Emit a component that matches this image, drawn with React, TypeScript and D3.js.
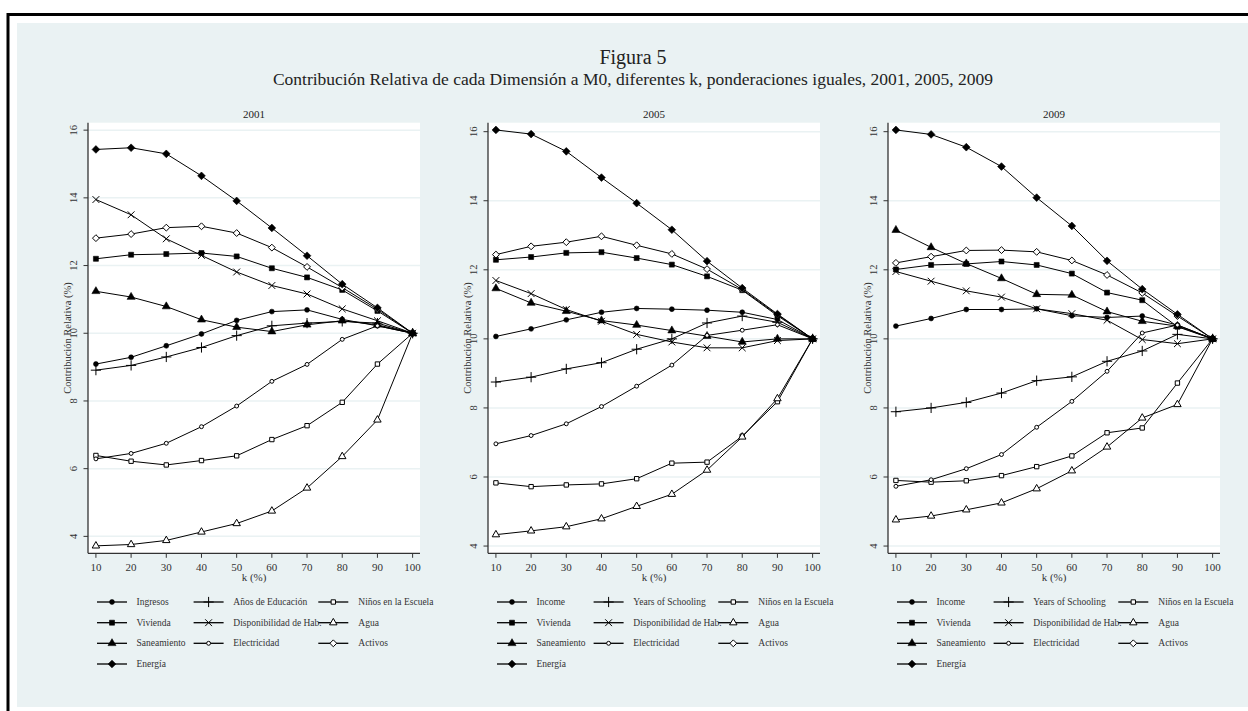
import React from 'react';
import * as d3 from 'd3';

const kValues = [10, 20, 30, 40, 50, 60, 70, 80, 90, 100];
const yTicks = [4, 6, 8, 10, 12, 14, 16];
const xTicks = [10, 20, 30, 40, 50, 60, 70, 80, 90, 100];

const panelTitles = ['2001', '2005', '2009'];
const legendEs = ['Ingresos', 'Años de Educación', 'Niños en la Escuela', 'Vivienda', 'Disponibilidad de Hab.', 'Agua', 'Saneamiento', 'Electricidad', 'Activos', 'Energía'];
const legendEn = ['Income', 'Years of Schooling', 'Niños en la Escuela', 'Vivienda', 'Disponibilidad de Hab.', 'Agua', 'Saneamiento', 'Electricidad', 'Activos', 'Energía'];

// 2001
const ingresos2001 = [9.09, 9.29, 9.63, 9.98, 10.38, 10.64, 10.69, 10.41, 10.22, 10];
const anos2001 = [8.91, 9.05, 9.3, 9.58, 9.93, 10.22, 10.3, 10.35, 10.3, 10];
const ninos2001 = [6.39, 6.22, 6.11, 6.24, 6.38, 6.86, 7.27, 7.96, 9.09, 10];
const vivienda2001 = [12.2, 12.32, 12.34, 12.37, 12.27, 11.92, 11.65, 11.28, 10.66, 10];
const disponibilidad2001 = [13.95, 13.5, 12.79, 12.3, 11.81, 11.41, 11.16, 10.72, 10.37, 10];
const agua2001 = [3.72, 3.76, 3.88, 4.13, 4.38, 4.75, 5.43, 6.36, 7.44, 10];
const saneamiento2001 = [11.24, 11.07, 10.79, 10.4, 10.18, 10.05, 10.25, 10.37, 10.25, 10];
const electricidad2001 = [6.29, 6.45, 6.75, 7.24, 7.85, 8.58, 9.08, 9.82, 10.22, 10];
const activos2001 = [12.81, 12.93, 13.12, 13.16, 12.96, 12.53, 11.96, 11.35, 10.71, 10];
const energia2001 = [15.43, 15.48, 15.3, 14.65, 13.91, 13.11, 12.29, 11.45, 10.75, 10];

// 2005
const ingresos2005 = [10.07, 10.29, 10.55, 10.77, 10.88, 10.86, 10.83, 10.77, 10.56, 10];
const anos2005 = [8.75, 8.89, 9.13, 9.31, 9.7, 10.0, 10.46, 10.66, 10.48, 10];
const ninos2005 = [5.83, 5.72, 5.77, 5.8, 5.95, 6.4, 6.43, 7.18, 8.18, 10];
const vivienda2005 = [12.29, 12.37, 12.49, 12.51, 12.34, 12.15, 11.81, 11.41, 10.67, 10];
const disponibilidad2005 = [11.69, 11.31, 10.85, 10.51, 10.13, 9.91, 9.74, 9.74, 9.95, 10];
const agua2005 = [4.33, 4.44, 4.56, 4.79, 5.15, 5.5, 6.2, 7.16, 8.27, 10];
const saneamiento2005 = [11.46, 11.04, 10.8, 10.53, 10.4, 10.24, 10.08, 9.91, 10.0, 10];
const electricidad2005 = [6.96, 7.2, 7.54, 8.04, 8.63, 9.24, 10.1, 10.25, 10.41, 10];
const activos2005 = [12.44, 12.68, 12.8, 12.97, 12.71, 12.46, 12.02, 11.43, 10.7, 10];
const energia2005 = [16.05, 15.93, 15.43, 14.67, 13.93, 13.16, 12.25, 11.47, 10.72, 10];

// 2009
const ingresos2009 = [10.37, 10.59, 10.85, 10.85, 10.87, 10.67, 10.62, 10.66, 10.4, 10];
const anos2009 = [7.89, 8.0, 8.16, 8.43, 8.79, 8.9, 9.35, 9.65, 10.13, 10];
const ninos2009 = [5.9, 5.85, 5.89, 6.04, 6.3, 6.61, 7.28, 7.42, 8.72, 10];
const vivienda2009 = [12.01, 12.14, 12.17, 12.24, 12.14, 11.89, 11.34, 11.12, 10.35, 10];
const disponibilidad2009 = [11.95, 11.67, 11.39, 11.21, 10.87, 10.73, 10.54, 9.98, 9.86, 10];
const agua2009 = [4.76, 4.87, 5.05, 5.25, 5.66, 6.18, 6.87, 7.71, 8.1, 10];
const saneamiento2009 = [13.15, 12.65, 12.18, 11.75, 11.29, 11.27, 10.79, 10.51, 10.37, 10];
const electricidad2009 = [5.73, 5.92, 6.24, 6.65, 7.44, 8.19, 9.06, 10.17, 10.4, 10];
const activos2009 = [12.2, 12.38, 12.56, 12.57, 12.52, 12.27, 11.85, 11.33, 10.66, 10];
const energia2009 = [16.05, 15.92, 15.55, 14.99, 14.09, 13.27, 12.26, 11.44, 10.71, 10];

const series2001 = [ingresos2001, anos2001, ninos2001, vivienda2001, disponibilidad2001, agua2001, saneamiento2001, electricidad2001, activos2001, energia2001];
const series2005 = [ingresos2005, anos2005, ninos2005, vivienda2005, disponibilidad2005, agua2005, saneamiento2005, electricidad2005, activos2005, energia2005];
const series2009 = [ingresos2009, anos2009, ninos2009, vivienda2009, disponibilidad2009, agua2009, saneamiento2009, electricidad2009, activos2009, energia2009];

// marker style per series (same order as legends)
const markers = [
  { type: d3.symbolCircle, size: 19, mode: 'fill' },
  { type: d3.symbolPlus, size: 36, mode: 'line' },
  { type: d3.symbolSquare, size: 19, mode: 'open' },
  { type: d3.symbolSquare, size: 25, mode: 'fill' },
  { type: d3.symbolTimes, size: 32, mode: 'line' },
  { type: d3.symbolTriangle, size: 24, mode: 'open' },
  { type: d3.symbolTriangle, size: 28, mode: 'fill' },
  { type: d3.symbolCircle, size: 12, mode: 'open' },
  { type: d3.symbolDiamond2, size: 30, mode: 'open' },
  { type: d3.symbolDiamond2, size: 38, mode: 'fill' },
];

const FONT = '"Liberation Serif", "DejaVu Serif", serif';
const BG = '#eaf2f3';

const Marker = ({ i, x, y }: { i: number; x: number; y: number }) => {
  const m = markers[i];
  const d = d3.symbol().type(m.type as any).size(m.size)() as string;
  const fill = m.mode === 'fill' ? '#000' : m.mode === 'open' ? '#fff' : 'none';
  return (
    <path
      d={d}
      transform={`translate(${x},${y})`}
      fill={fill}
      stroke="#000"
      strokeWidth={m.mode === 'fill' ? 0.6 : 1}
    />
  );
};

const Panel = ({ idx, series, labels }: { idx: number; series: number[][]; labels: string[] }) => {
  const left = 88 + idx * 400;
  const width = 332;
  const top = 122.7;
  const bottom = 553.3;
  const yDom = idx === 0 ? [3.5, 16.22] : [3.79, 16.26];
  const x = d3.scaleLinear().domain([7.75, 102.1]).range([left, left + width]);
  const y = d3.scaleLinear().domain(yDom).range([bottom, top]);
  const line = d3
    .line<number>()
    .x((_, j) => x(kValues[j]))
    .y((v) => y(v));

  const legendRows = [602, 622.7, 643.3, 664];
  const colLine = [9, 105.6, 230.3];
  const colText = [48.5, 145.3, 270.3];

  return (
    <g>
      <text x={left + width / 2} y={118} textAnchor="middle" fontSize={11} fontFamily={FONT} fill="#222">
        {panelTitles[idx]}
      </text>
      <rect x={left} y={top} width={width} height={bottom - top} fill="#fff" />
      {yTicks.map((t) => (
        <g key={t}>
          <line x1={left} x2={left + width} y1={y(t)} y2={y(t)} stroke={BG} strokeWidth={1.5} />
          <line x1={left - 4.5} x2={left} y1={y(t)} y2={y(t)} stroke="#333" strokeWidth={1} />
          <text
            transform={`translate(${left - 11},${y(t)}) rotate(-90)`}
            textAnchor="middle"
            fontSize={10.5}
            fontFamily={FONT}
            fill="#333"
          >
            {t}
          </text>
        </g>
      ))}
      <text
        transform={`translate(${left - 17},${(top + bottom) / 2}) rotate(-90)`}
        textAnchor="middle"
        fontSize={10.5}
        fontFamily={FONT}
        fill="#333"
      >
        Contribución Relativa (%)
      </text>
      <line x1={left} x2={left} y1={top} y2={bottom} stroke="#333" strokeWidth={1.3} />
      <line x1={left} x2={left + width} y1={bottom} y2={bottom} stroke="#333" strokeWidth={1.3} />
      {xTicks.map((t) => (
        <g key={t}>
          <line x1={x(t)} x2={x(t)} y1={bottom} y2={bottom + 4.5} stroke="#333" strokeWidth={1} />
          <text x={x(t)} y={570.7} textAnchor="middle" fontSize={11} fontFamily={FONT} fill="#333">
            {t}
          </text>
        </g>
      ))}
      <text x={left + width / 2} y={580.5} textAnchor="middle" fontSize={11} fontFamily={FONT} fill="#333">
        k (%)
      </text>
      {series.map((s, i) => (
        <path key={`l${i}`} d={line(s) as string} fill="none" stroke="#000" strokeWidth={1} />
      ))}
      {series.map((s, i) => (
        <g key={`m${i}`}>
          {s.map((v, j) => (
            <Marker key={j} i={i} x={x(kValues[j])} y={y(v)} />
          ))}
        </g>
      ))}
      {labels.map((lab, i) => {
        const r = Math.floor(i / 3);
        const c = i % 3;
        const ly = legendRows[r];
        const lx = left + colLine[c];
        return (
          <g key={lab + i}>
            <line x1={lx} x2={lx + 30} y1={ly} y2={ly} stroke="#000" strokeWidth={1.3} />
            <Marker i={i} x={lx + 15} y={ly} />
            <text x={left + colText[c]} y={ly} dy="0.33em" fontSize={9.5} fontFamily={FONT} fill="#333">
              {lab}
            </text>
          </g>
        );
      })}
    </g>
  );
};

export default function App() {
  return (
    <svg width={1248} height={711} style={{ position: 'absolute', left: 0, top: 0, background: '#fff' }}>
      <rect x={0} y={0} width={1248} height={711} fill="#fff" />
      <rect x={8} y={14.5} width={1300} height={800} fill="none" stroke="#000" strokeWidth={3} />
      <rect x={17} y={23} width={1240} height={684} fill={BG} />
      <text x={633} y={63.5} textAnchor="middle" fontSize={20} fontFamily={FONT} fill="#222">
        Figura 5
      </text>
      <text x={633} y={84.5} textAnchor="middle" fontSize={17.5} fontFamily={FONT} fill="#222">
        Contribución Relativa de cada Dimensión a M0, diferentes k, ponderaciones iguales, 2001, 2005, 2009
      </text>
      <Panel idx={0} series={series2001} labels={legendEs} />
      <Panel idx={1} series={series2005} labels={legendEn} />
      <Panel idx={2} series={series2009} labels={legendEn} />
    </svg>
  );
}
